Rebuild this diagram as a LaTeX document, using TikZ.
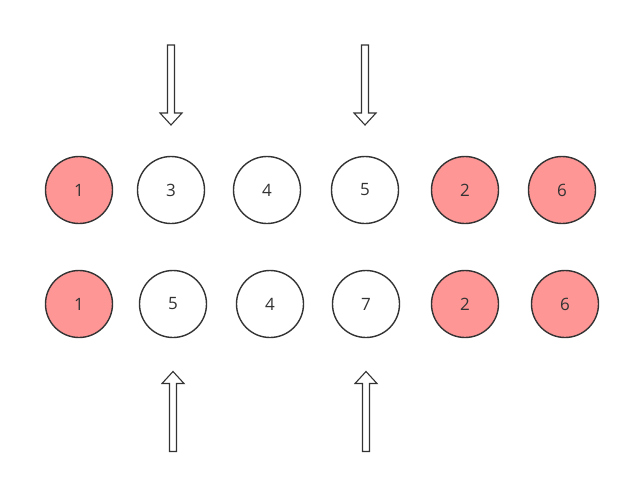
\documentclass[tikz,border=0pt]{standalone}
\usepackage{fontspec}
\setmainfont{Open Sans}
\definecolor{hotball}{RGB}{255,150,150}
\definecolor{inkgray}{RGB}{51,51,51}

\begin{document}
\begin{tikzpicture}[x=1pt, y=-1pt,
  font=\fontsize{17}{20}\selectfont, text=inkgray,
  ball/.style={draw=inkgray, circle, line width=1.4pt, minimum size=67pt, inner sep=0pt, fill=white},
  hot/.style={ball, fill=hotball},
  hollowarrow/.pic={\draw[draw=inkgray, line width=1.1pt, fill=white, line join=miter]
    (-3.5,-40) -- (-3.5,28) -- (-11,28) -- (0,40) -- (11,28) -- (3.5,28) -- (3.5,-40) -- cycle;}]
\useasboundingbox (0,0) rectangle (630,482);
% first row
\node[hot]  (a1) at (79,190)  {1};
\node[ball] (a2) at (171,190) {3};
\node[ball] (a3) at (267,190) {4};
\node[ball] (a4) at (365,190) {5};
\node[hot]  (a5) at (465,190) {2};
\node[hot]  (a6) at (562,190) {6};
% second row
\node[hot]  (b1) at (79,304)  {1};
\node[ball] (b2) at (173,304) {5};
\node[ball] (b3) at (270,304) {4};
\node[ball] (b4) at (366,304) {7};
\node[hot]  (b5) at (465,304) {2};
\node[hot]  (b6) at (565,304) {6};
% arrows
\pic at (171,85) {hollowarrow};
\pic at (365,85) {hollowarrow};
\pic[yscale=-1] at (173,411.5) {hollowarrow};
\pic[yscale=-1] at (366,411.5) {hollowarrow};
\end{tikzpicture}
\end{document}
